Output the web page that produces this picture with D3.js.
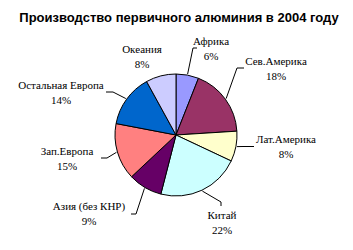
<!DOCTYPE html>
<html>
<head>
<meta charset="utf-8">
<script src="https://cdn.jsdelivr.net/npm/d3@7"></script>
<style>
  html, body { margin: 0; padding: 0; background: #fff; }
  svg { display: block; }
  .lbl { font-family: "Liberation Serif", "Times New Roman", "DejaVu Serif", serif; font-size: 11px; }
  .title { font-family: "Liberation Sans", Arial, sans-serif; font-size: 13px; font-weight: bold; }
</style>
</head>
<body>
<div id="chart"></div>
<script>
// Data, in the order the slices go (clockwise from 12 o'clock)
const regions = [
  "Африка",
  "Сев.Америка",
  "Лат.Америка",
  "Китай",
  "Азия (без КНР)",
  "Зап.Европа",
  "Остальная Европа",
  "Океания",
];
const shares = [6, 18, 8, 22, 9, 15, 14, 8];

// Excel palette colours, same order as the data
const colours = [
  "#9999FF",
  "#993366",
  "#FFFFCC",
  "#CCFFFF",
  "#660066",
  "#FF8080",
  "#0066CC",
  "#CCCCFF",
];

// label placement: centre x and baseline of first line
const labelPos = [
  [211, 45],
  [276, 65],
  [286, 143],
  [222, 219],
  [89, 210],
  [67, 155],
  [61, 89],
  [142, 53],
];
// leader line elbow and end points (null = no leader)
const leaders = [
  [[193, 48], [197, 48]],
  [[237, 68], [244, 68]],
  [[243, 146.5], [254, 146.5]],
  [[221, 202], [221, 206]],
  [[136, 214], [131, 214]],
  [[107, 158], [101, 158]],
  [[113, 92], [106, 92]],
  null,
];

const width = 353;
const height = 250;
const cx = 176;
const cy = 135;
const radius = 61;

const svg = d3
  .select("#chart")
  .append("svg")
  .attr("width", width)
  .attr("height", height);

svg
  .append("text")
  .attr("class", "title")
  .attr("x", 179)
  .attr("y", 22)
  .attr("text-anchor", "middle")
  .text("Производство первичного алюминия в 2004 году");

const pie = d3.pie().sort(null).value((d) => d);
const arcs = pie(shares);

const arc = d3.arc().innerRadius(0).outerRadius(radius);
const edge = d3.arc().innerRadius(radius + 1).outerRadius(radius + 1);

const g = svg.append("g").attr("transform", `translate(${cx},${cy})`);

g.selectAll("path")
  .data(arcs)
  .join("path")
  .attr("d", arc)
  .attr("fill", (_, i) => colours[i])
  .attr("stroke", "#000")
  .attr("stroke-width", 1);

// leader lines from the slice edge to the label
arcs.forEach((a, i) => {
  if (!leaders[i]) return;
  const [sx, sy] = edge.centroid(a);
  const pts = [[sx + cx, sy + cy], ...leaders[i]];
  svg
    .append("path")
    .attr("d", d3.line()(pts))
    .attr("fill", "none")
    .attr("stroke", "#000")
    .attr("stroke-width", 1);
});

// labels: name and percent on two lines
const labels = svg
  .selectAll(".lbl")
  .data(arcs)
  .join("text")
  .attr("class", "lbl")
  .attr("text-anchor", "middle")
  .attr("fill", "#000");

labels
  .append("tspan")
  .attr("x", (_, i) => labelPos[i][0])
  .attr("y", (_, i) => labelPos[i][1])
  .text((_, i) => regions[i]);

labels
  .append("tspan")
  .attr("x", (_, i) => labelPos[i][0])
  .attr("y", (_, i) => labelPos[i][1] + 15)
  .text((d) => d3.format(".0%")(d.data / d3.sum(shares)));
</script>
</body>
</html>
